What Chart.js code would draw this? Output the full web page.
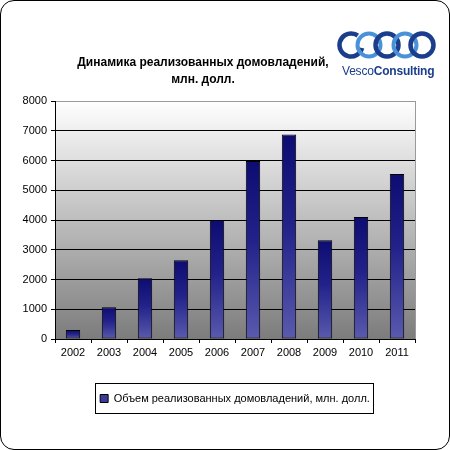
<!DOCTYPE html>
<html>
<head>
<meta charset="utf-8">
<script src="https://cdn.jsdelivr.net/npm/chart.js@4"></script>
<style>
  body { margin: 0; background: #fff; font-family: "Liberation Sans", Arial, sans-serif; }
  #wrap { position: relative; width: 450px; height: 450px; }
  #frame { position: absolute; left: 0; top: 0; width: 448px; height: 448px; border: 1px solid #000; border-radius: 14px; pointer-events: none; }
  #title { position: absolute; left: 53px; top: 54px; width: 300px; text-align: center; font-weight: bold; font-size: 12px; line-height: 17px; color: #000; }
  #logo { position: absolute; left: 337px; top: 27px; }
  #logoText { position: absolute; left: 342px; top: 64px; font-size: 12px; color: #1b3d8c; letter-spacing: -0.2px; }
  canvas { position: absolute; left: 0; top: 0; }
</style>
</head>
<body>
<div id="wrap">
  <canvas id="chart" width="450" height="450"></canvas>
  <div id="title">Динамика реализованных домовладений,<br>млн. долл.</div>
  <svg id="logo" width="100" height="36" viewBox="0 0 100 36">
    <circle cx="14" cy="18" r="11.5" fill="none" stroke="#1b3d8c" stroke-width="4.5" stroke-dasharray="58 14" transform="rotate(15 14 18)"/>
    <circle cx="32" cy="18" r="11.5" fill="none" stroke="#4a92d8" stroke-width="4"/>
    <circle cx="50" cy="18" r="11.5" fill="none" stroke="#1b3d8c" stroke-width="4.5"/>
    <circle cx="68" cy="18" r="11.5" fill="none" stroke="#4a92d8" stroke-width="4"/>
    <circle cx="85" cy="18" r="11.5" fill="none" stroke="#1b3d8c" stroke-width="4.5"/>
  </svg>
  <div id="logoText">Vesco<b>Consulting</b></div>
  <div id="frame"></div>
</div>
<script>
const years = ['2002', '2003', '2004', '2005', '2006', '2007', '2008', '2009', '2010', '2011'];
const volumes = [300, 1070, 2040, 2650, 4000, 5980, 6870, 3320, 4100, 5550];
const seriesName = 'Объем реализованных домовладений, млн. долл.';
const yTicks = [0, 1000, 2000, 3000, 4000, 5000, 6000, 7000, 8000];

const ctx = document.getElementById('chart').getContext('2d');

function barGradient(context) {
    const chart = context.chart;
    if (!chart.chartArea) return '#2c2c8c';
    const y = chart.scales.y;
    const top = y.getPixelForValue(context.raw);
    const bottom = y.getPixelForValue(0);
    const g = chart.ctx.createLinearGradient(0, top, 0, bottom);
    g.addColorStop(0, '#0c0c72');
    g.addColorStop(0.45, '#22228a');
    g.addColorStop(1, '#5a5aae');
    return g;
}

// fondo gris degradado del area de trazado
const plotBackground = {
    id: 'plotBackground',
    afterLayout(chart) {
        // centrar la leyenda bajo el area de trazado
        const lg = chart.legend;
        const shift = (chart.chartArea.left + chart.chartArea.right) / 2 - (lg.left + lg.right) / 2;
        lg.left += shift;
        lg.right += shift;
    },
    beforeDraw(chart) {
        const {ctx, chartArea: a} = chart;
        const g = ctx.createLinearGradient(0, a.top, 0, a.bottom);
        g.addColorStop(0, '#ffffff');
        g.addColorStop(1, '#7c7c7c');
        ctx.save();
        ctx.fillStyle = g;
        ctx.fillRect(a.left, a.top, a.right - a.left, a.bottom - a.top);
        ctx.restore();
    },
    afterDraw(chart) {
        const {ctx, chartArea: a} = chart;
        ctx.save();
        // borde derecho gris
        ctx.strokeStyle = '#9a9a9a';
        ctx.lineWidth = 1;
        ctx.beginPath();
        ctx.moveTo(Math.round(a.right) + 0.5, a.top);
        ctx.lineTo(Math.round(a.right) + 0.5, a.bottom);
        ctx.stroke();
        // marco de la leyenda
        const lg = chart.legend;
        const hb = lg.legendHitBoxes[0];
        if (hb) {
            ctx.strokeStyle = '#000';
            ctx.strokeRect(Math.round(hb.left) - 4.5, Math.round(hb.top) - 9.5, Math.round(hb.width) + 8, 30);
        }
        ctx.restore();
    }
};

const myChart = new Chart(ctx, {
    type: 'bar',
    data: {
        labels: years,
        datasets: [{
            label: seriesName,
            data: volumes,
            backgroundColor: barGradient,
            borderColor: '#000',
            borderWidth: 1,
            borderSkipped: false,
            barPercentage: 0.4,
            categoryPercentage: 1
        }]
    },
    options: {
        responsive: false,
        devicePixelRatio: 1,
        animation: false,
        layout: { padding: { top: 101, left: 8, right: 35, bottom: 36 } },
        plugins: {
            title: { display: false },
            tooltip: { enabled: false },
            legend: {
                position: 'bottom',
                labels: {
                    color: '#000',
                    font: { family: '"Liberation Sans", Arial', size: 11 },
                    boxWidth: 8,
                    boxHeight: 8,
                    padding: 10,
                    generateLabels(chart) {
                        const items = Chart.defaults.plugins.legend.labels.generateLabels(chart);
                        items.forEach(it => {
                            it.fillStyle = '#3c3c98';
                            it.strokeStyle = '#000';
                            it.lineWidth = 1;
                        });
                        return items;
                    }
                }
            }
        },
        scales: {
            x: {
                grid: {
                    offset: true,
                    drawOnChartArea: false,
                    drawTicks: true,
                    tickLength: 4,
                    tickColor: '#000'
                },
                border: { display: true, color: '#000' },
                ticks: {
                    color: '#000',
                    font: { family: '"Liberation Sans", Arial', size: 11 },
                    padding: 3,
                    maxRotation: 0
                },
                afterFit(scale) { scale.height = 44; }
            },
            y: {
                min: 0,
                max: 8000,
                afterBuildTicks(scale) { scale.ticks = yTicks.map(v => ({ value: v })); },
                grid: {
                    color: c => (c.tick && c.tick.value === 8000) ? '#9a9a9a' : '#000',
                    tickColor: '#000',
                    tickLength: 4,
                    lineWidth: 1
                },
                border: { display: true, color: '#000' },
                ticks: {
                    color: '#000',
                    font: { family: '"Liberation Sans", Arial', size: 11 },
                    padding: 4,
                    callback: v => String(v)
                },
                afterFit(scale) { scale.width = 47; }
            }
        }
    },
    plugins: [plotBackground]
});
</script>
</body>
</html>
